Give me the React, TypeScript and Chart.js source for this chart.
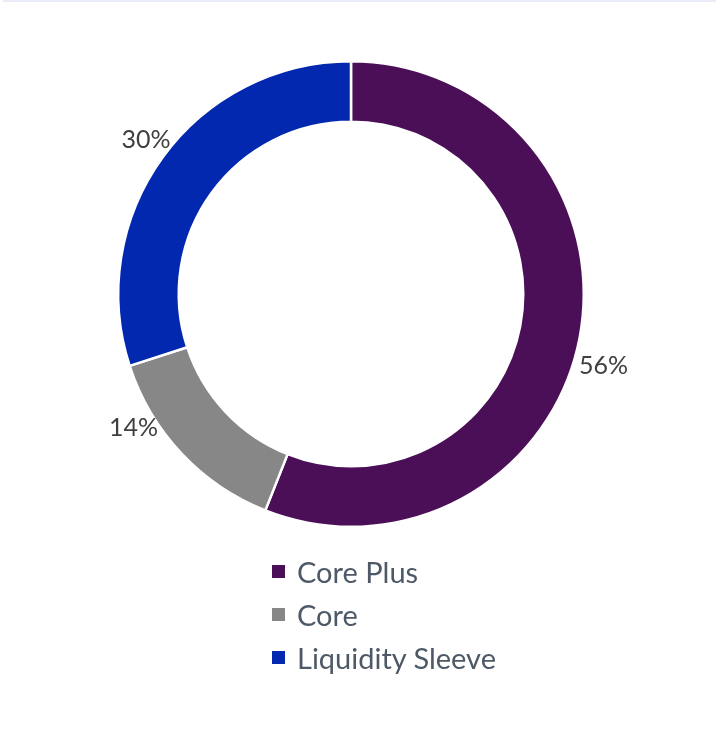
import React, { useEffect, useRef } from "react";
import { Chart, registerables } from "chart.js";

Chart.register(...registerables);

const categories = ["Core Plus", "Core", "Liquidity Sleeve"];
const values = [56, 14, 30];
const colors = ["#4a0f57", "#878787", "#0228b0"];

// label placement tweaks (degrees shift from mid-angle, px gap beyond outer edge)
const labelShiftDeg = [5.2, 11.5, 1.0];
const labelGap = [30, 23, 24];

const pctLabels = {
  id: "pctLabels",
  afterDatasetsDraw(chart: any) {
    const meta = chart.getDatasetMeta(0);
    const ctx = chart.ctx;
    ctx.save();
    ctx.font = "25px Lato";
    ctx.fillStyle = "#404040";
    ctx.textAlign = "center";
    ctx.textBaseline = "middle";
    meta.data.forEach((arc: any, i: number) => {
      const p = arc.getProps(["x", "y", "startAngle", "endAngle", "outerRadius"], true);
      const mid = (p.startAngle + p.endAngle) / 2 + (labelShiftDeg[i] * Math.PI) / 180;
      const r = p.outerRadius + labelGap[i];
      ctx.fillText(`${values[i]}%`, p.x + r * Math.cos(mid), p.y + r * Math.sin(mid));
    });
    ctx.restore();
  },
};

export default function App() {
  const ref = useRef<HTMLCanvasElement>(null);
  useEffect(() => {
    document.body.style.margin = "0";
    const chart = new Chart(ref.current!, {
      type: "doughnut",
      data: {
        labels: categories,
        datasets: [
          {
            data: values,
            backgroundColor: colors,
            borderColor: "#ffffff",
            borderWidth: 2.5,
          },
        ],
      },
      options: {
        animation: false,
        responsive: false,
        cutout: "74%",
        layout: { padding: { left: 117, right: 133, top: 60, bottom: 201 } },
        plugins: {
          legend: { display: false },
          tooltip: { enabled: false },
        },
      },
      plugins: [pctLabels],
    });
    return () => chart.destroy();
  }, []);

  return (
    <div style={{ position: "relative", width: 718, height: 729, background: "#fff", fontFamily: "Lato" }}>
      <div
        style={{
          position: "absolute",
          left: 3,
          top: 0,
          width: 713,
          height: 2,
          background: "#e9ecf8",
        }}
      />
      <canvas ref={ref} width={718} height={729} style={{ position: "absolute", left: 0, top: 0 }} />
      <div style={{ position: "absolute", left: 272, top: 550 }}>
        {categories.map((c, i) => (
          <div
            key={c}
            style={{
              display: "flex",
              alignItems: "center",
              height: 43,
              lineHeight: "43px",
              fontSize: 29,
              color: "#4d5966",
              whiteSpace: "nowrap",
            }}
          >
            <span
              style={{
                display: "inline-block",
                width: 13,
                height: 13,
                background: colors[i],
                marginRight: 12,
              }}
            />
            <span>{c}</span>
          </div>
        ))}
      </div>
    </div>
  );
}
